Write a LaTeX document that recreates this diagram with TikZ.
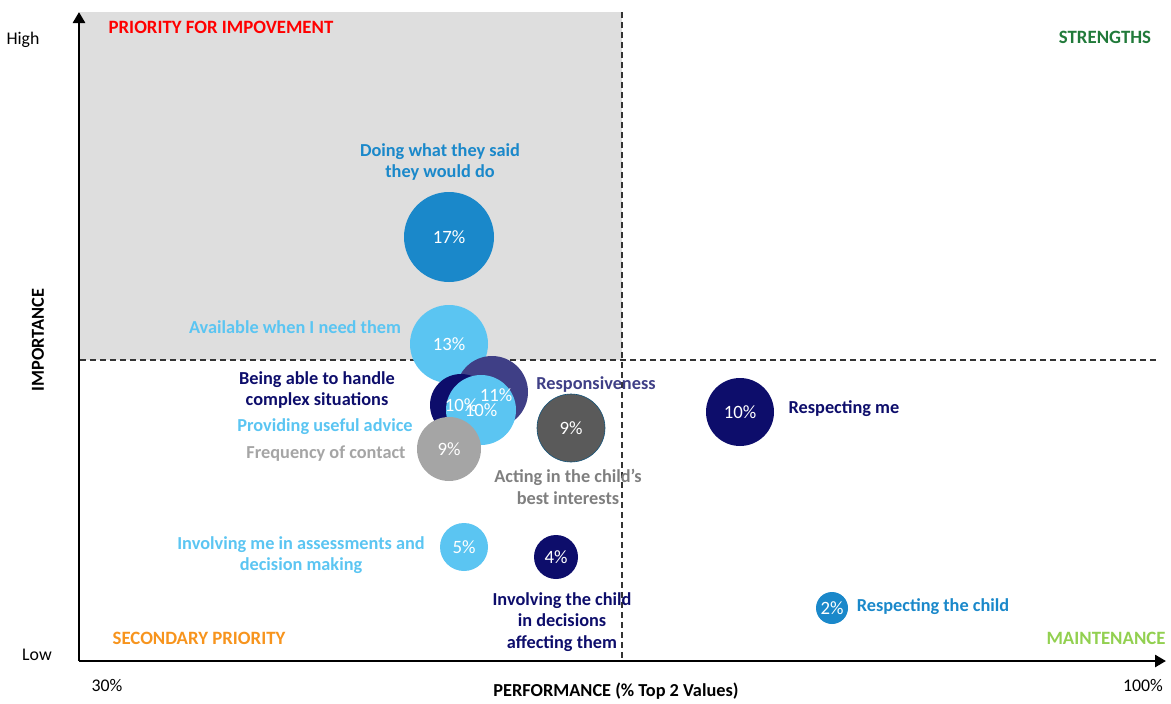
\documentclass[tikz,border=0pt]{standalone}
\usepackage{fontspec}
\setmainfont{Carlito}
\usetikzlibrary{arrows.meta}
\definecolor{cblue}{HTML}{1A88CA}
\definecolor{clight}{HTML}{5BC5F2}
\definecolor{cnavy}{HTML}{0D0D6B}
\definecolor{cslate}{HTML}{3F3F86}
\definecolor{cgrayl}{HTML}{A5A5A5}
\definecolor{cgrayd}{HTML}{5A5A5A}
\definecolor{cgrayt}{HTML}{7F7F7F}
\definecolor{cbg}{HTML}{DEDEDE}
\definecolor{corange}{HTML}{F7941D}
\definecolor{cgreen}{HTML}{217A3A}
\definecolor{clime}{HTML}{92D050}
\begin{document}
\begin{tikzpicture}[x=1pt,y=-1pt,
  bub/.style={circle,inner sep=0pt,draw=none},
  pct/.style={text=white,inner sep=0pt,font=\fontsize{18.8}{21}\selectfont},
  lab/.style={font=\bfseries\fontsize{18.3}{21.5}\selectfont,align=center,inner sep=0pt},
  qlab/.style={font=\bfseries\fontsize{18.8}{21.5}\selectfont,inner sep=0pt},
  plain/.style={font=\fontsize{17.8}{21}\selectfont,inner sep=0pt},
  axis/.style={line width=2.6pt,-{Triangle[length=11pt,width=12pt]}},
  quad/.style={line width=1.4pt,dash pattern=on 6pt off 4pt,color=black!80}]
\useasboundingbox (0,0) rectangle (1171,704);
% background quadrant
\fill[cbg] (80,12) rectangle (622,360);
% coordinates
\coordinate (o) at (79,661);
\coordinate (ytop) at (79,12);
\coordinate (xend) at (1166,661);
\coordinate (vtop) at (622,12);
\coordinate (vbot) at (622,660);
\coordinate (hl) at (80,360);
\coordinate (hr) at (1158,360);
\draw[quad] (vtop) -- (vbot);
\draw[quad] (hl) -- (hr);
% bubbles
\node[bub,fill=cblue,minimum size=90pt] (b17) at (449,237) {};
\node[bub,fill=clight,minimum size=78pt] (b13) at (449,344) {};
\node[bub,fill=cslate,minimum size=72pt] (b11) at (492,392) {};
\node[bub,fill=cnavy,minimum size=62pt] (b10n) at (461,405) {};
\node[bub,fill=clight,minimum size=70pt] (b10l) at (481,410) {};
\node[bub,fill=cgrayl,minimum size=64pt] (b9l) at (449,449) {};
\node[bub,fill=cgrayd,draw=cblue!60!black,line width=0.6pt,minimum size=68pt] (b9d) at (571,428) {};
\node[bub,fill=cnavy,minimum size=68pt] (b10r) at (740,412) {};
\node[bub,fill=clight,minimum size=48pt] (b5) at (464,547) {};
\node[bub,fill=cnavy,minimum size=44pt] (b4) at (556,557) {};
\node[bub,fill=cblue,minimum size=32pt] (b2) at (832,608) {};
% bubble values
\node[pct] at (b17) {17\%};
\node[pct] at (b13) {13\%};
\node[pct] at (496,395) {11\%};
\node[pct] at (461,405) {10\%};
\node[pct] at (481,410) {10\%};
\node[pct] at (b9l) {9\%};
\node[pct] at (b9d) {9\%};
\node[pct] at (b10r) {10\%};
\node[pct] at (b5) {5\%};
\node[pct] at (b4) {4\%};
\node[pct] at (b2) {2\%};
% axes
\draw[axis] (o) -- (ytop);
\draw[axis] (o) -- (xend);
% labels
\node[lab,text=cblue] (l17) at (440,162) {Doing what they said\\they would do};
\node[lab,text=clight] (l13) at (295,327) {Available when I need them};
\node[lab,text=cnavy] (l10n) at (317,390) {Being able to handle\\complex situations};
\node[lab,text=clight] (l10l) at (325,427) {Providing useful advice};
\node[lab,text=cgrayl] (l9l) at (326,454) {Frequency of contact};
\node[lab,text=cslate] (l11) at (596,385) {Responsiveness};
\node[lab,text=cnavy] (l10r) at (844,409) {Respecting me};
\node[lab,text=cgrayt] (l9d) at (568,487) {Acting in the child’s\\best interests};
\node[lab,text=clight] (l5) at (301,555) {Involving me in assessments and\\decision making};
\node[lab,text=cnavy] (l4) at (562,622) {Involving the child\\in decisions\\affecting them};
\node[lab,text=cblue] (l2) at (933,607) {Respecting the child};
% quadrant names
\node[qlab,text=red] (q1) at (221,27) {PRIORITY FOR IMPOVEMENT};
\node[qlab,text=cgreen] (q2) at (1105,37) {STRENGTHS};
\node[qlab,text=corange] (q3) at (199,638) {SECONDARY PRIORITY};
\node[qlab,text=clime] (q4) at (1106,638) {MAINTENANCE};
% axis texts
\node[plain] (high) at (23,40) {High};
\node[plain] (low) at (37,655) {Low};
\node[plain] (x30) at (107,685) {30\%};
\node[plain] (x100) at (1143,685) {100\%};
\node[lab] (xt) at (616,691) {PERFORMANCE (\% Top 2 Values)};
\node[lab,rotate=90] (yt) at (38,340) {IMPORTANCE};
\end{tikzpicture}
\end{document}
